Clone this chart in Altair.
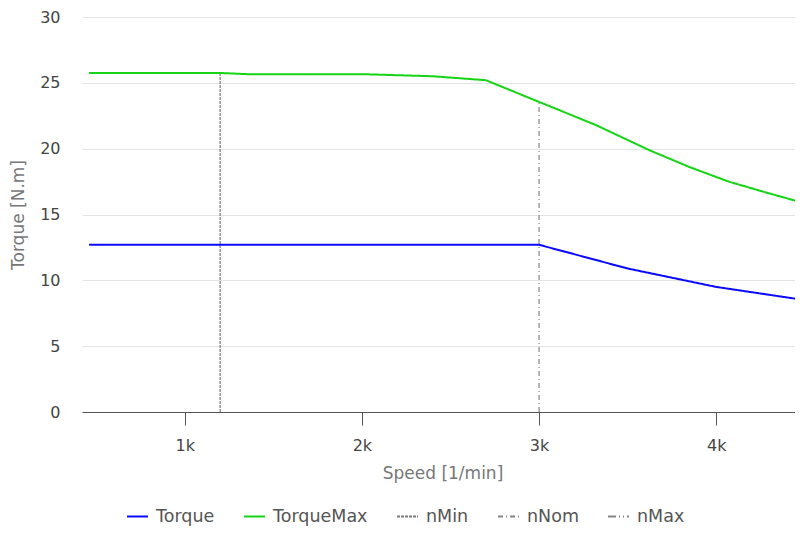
import altair as alt
import pandas as pd

# ---- data ----
torque_speed = [460, 1200, 2000, 2700, 3000, 3250, 3500, 3750, 4000, 4250, 4500]
torque_vals = [12.7, 12.7, 12.7, 12.7, 12.7, 11.8, 10.9, 10.2, 9.5, 9.0, 8.5]

tmax_speed = [460, 1200, 1350, 2000, 2400, 2700, 3000, 3320, 3620, 3850, 4070, 4300, 4500]
tmax_vals = [25.75, 25.75, 25.66, 25.66, 25.5, 25.2, 23.55, 21.8, 19.9, 18.6, 17.5, 16.6, 15.85]

marker_names = ["nMin", "nNom", "nMax"]
marker_speed = [1200, 3000, 4500]
marker_top = [25.75, 23.55, 15.85]

series = ["Torque", "TorqueMax", "nMin", "nNom", "nMax"]
colors = ["#0a0aff", "#14d414", "#7a7a7a", "#858585", "#858585"]
dashes = [[1, 0], [1, 0], [3, 1], [5, 3, 1, 3], [8, 3, 1, 3, 1, 3]]

lines_df = pd.DataFrame(
    {"speed": torque_speed + tmax_speed,
     "torque": torque_vals + tmax_vals,
     "series": ["Torque"] * len(torque_speed) + ["TorqueMax"] * len(tmax_speed)}
)
rules_df = pd.DataFrame({"speed": marker_speed, "top": marker_top, "series": marker_names,
                         "zero": [0] * len(marker_names)})

color_enc = alt.Color("series:N", scale=alt.Scale(domain=series, range=colors),
                      legend=alt.Legend(title=None))
dash_enc = alt.StrokeDash("series:N", scale=alt.Scale(domain=series, range=dashes),
                          legend=alt.Legend(title=None))

xscale = alt.Scale(domain=[420, 4490], nice=False, zero=False)
yscale = alt.Scale(domain=[0, 30], nice=False)

lines = alt.Chart(lines_df).mark_line(strokeWidth=2, clip=True).encode(
    x=alt.X("speed:Q", scale=xscale, title="Speed [1/min]",
            axis=alt.Axis(values=[1000, 2000, 3000, 4000], format="~s", grid=False)),
    y=alt.Y("torque:Q", scale=yscale, title="Torque [N.m]",
            axis=alt.Axis(values=[0, 5, 10, 15, 20, 25, 30])),
    color=color_enc,
    strokeDash=dash_enc,
    order=alt.Order("speed:Q"),
)

rules = alt.Chart(rules_df).mark_rule(strokeWidth=1.2, clip=True).encode(
    x="speed:Q",
    y="zero:Q",
    y2="top:Q",
    color=color_enc,
    strokeDash=dash_enc,
)

chart = alt.layer(rules, lines).properties(
    width=721, height=395,
    autosize=alt.AutoSizeParams(type="none"),
    padding={"left": 74, "top": 9, "right": -8, "bottom": 114},
).configure_view(stroke=None).configure_axis(
    labelFont="DejaVu Sans", titleFont="DejaVu Sans",
    labelFontSize=16, titleFontSize=17, titleFontWeight="normal",
    labelColor="#444", titleColor="#777",
    gridColor="#e4e4e4",
).configure_axisX(
    domainColor="#555", tickColor="#555", tickSize=13, labelPadding=12, titlePadding=12,
).configure_axisY(
    domain=False, ticks=False, tickSize=0, labelPadding=22, titlePadding=12,
).configure_legend(
    orient="none", legendX=44, legendY=488, direction="horizontal",
    symbolType="stroke", symbolSize=440, symbolStrokeWidth=2,
    labelFont="DejaVu Sans", labelFontSize=17.5, labelColor="#555",
    columnPadding=25, labelOffset=7,
)

chart.save("out.html", embed_options={"renderer": "svg", "actions": False})
